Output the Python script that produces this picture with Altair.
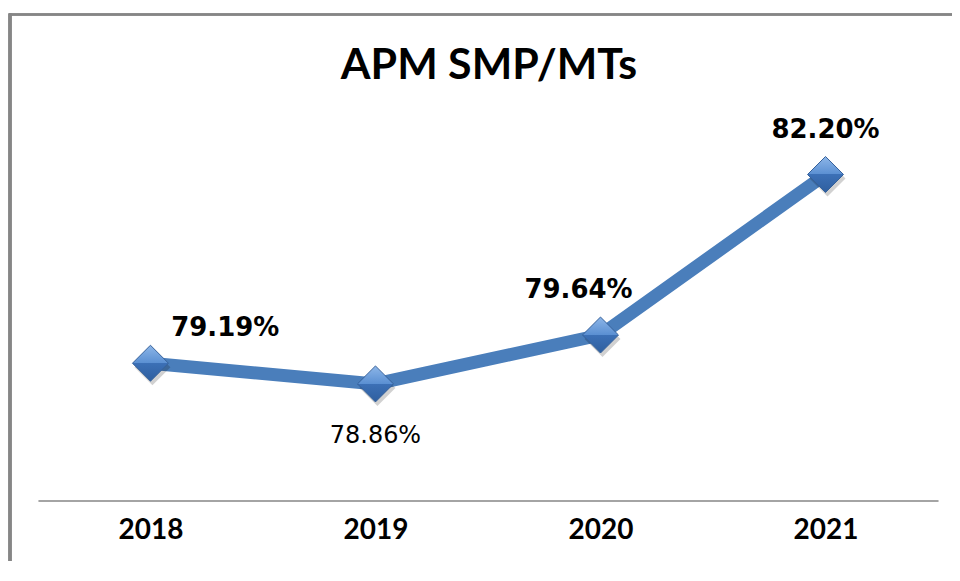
import altair as alt
import pandas as pd

years = ["2018", "2019", "2020", "2021"]
values = [79.19, 78.86, 79.64, 82.20]
labels = ["79.19%", "78.86%", "79.64%", "82.20%"]
title_text = "APM SMP/MTs"

df = pd.DataFrame({"year": years, "value": values, "label": labels})

BLUE = "#4A7EBB"
GRAY = "#868686"

x_enc = alt.X("year:N", sort=years, title=None,
              scale=alt.Scale(type="point", padding=0.5),
              axis=alt.Axis(domain=True, domainColor=GRAY, domainWidth=1.5,
                            ticks=False, grid=False, labelAngle=0,
                            labelFont="Lato", labelFontWeight="bold",
                            labelFontSize=28, labelColor="#000000",
                            labelPadding=16))
y_enc = alt.Y("value:Q", scale=alt.Scale(domain=[77, 83], nice=False, zero=False),
              axis=None)

base = alt.Chart(df).encode(x=x_enc, y=y_enc)

line = base.mark_line(color=BLUE, strokeWidth=13, strokeJoin="miter")

shadow = base.mark_point(shape="diamond", size=1300, filled=True,
                         color="#000000", opacity=0.18, xOffset=2, yOffset=4)

diamond_fill = alt.Gradient(
    gradient="linear", x1=0, y1=0, x2=0, y2=1,
    stops=[alt.GradientStop(color="#8DB6E8", offset=0),
           alt.GradientStop(color="#5A8FD2", offset=0.5),
           alt.GradientStop(color="#3C70B6", offset=0.5),
           alt.GradientStop(color="#2F5F9F", offset=1)])

points = base.mark_point(shape="diamond", size=1300, filled=True, opacity=1,
                         fill=diamond_fill, stroke="#35609A", strokeWidth=1)

def lab(year, dx, dy, weight, size):
    return alt.Chart(df).transform_filter(alt.datum.year == year).mark_text(
        font="DejaVu Sans", fontSize=size, fontWeight=weight, color="#000000",
        dx=dx, dy=dy, baseline="middle", align="center"
    ).encode(x=x_enc, y=y_enc, text="label:N")

t1 = lab("2018", 75, -35, "bold", 26)
t2 = lab("2019", 0, 52, "normal", 24)
t3 = lab("2020", -22, -45, "bold", 26)
t4 = lab("2021", 0, -45, "bold", 26)

title = alt.Chart(pd.DataFrame({"t": [title_text]})).mark_text(
    font="Lato", fontSize=43, fontWeight="bold", color="#000000",
    align="center", baseline="alphabetic"
).encode(text="t:N", x=alt.value(452), y=alt.value(-45))

border_left = alt.Chart(df).mark_rule(color=GRAY, strokeWidth=3).encode(
    x=alt.value(-28), y=alt.value(-111), y2=alt.value(470))
border_top = alt.Chart(df).mark_rule(color=GRAY, strokeWidth=2).encode(
    x=alt.value(-29), x2=alt.value(960), y=alt.value(-110))

chart = alt.layer(border_left, border_top, title, line, shadow, points,
                  t1, t2, t3, t4).properties(
    width=902, height=377,
    autosize=alt.AutoSizeParams(type="none"),
    padding={"left": 30, "top": 116, "right": 14, "bottom": 60},
    background="#ffffff",
).configure_view(strokeWidth=0, stroke=None)

chart.save("out.html", embed_options={"renderer": "svg", "actions": False})
